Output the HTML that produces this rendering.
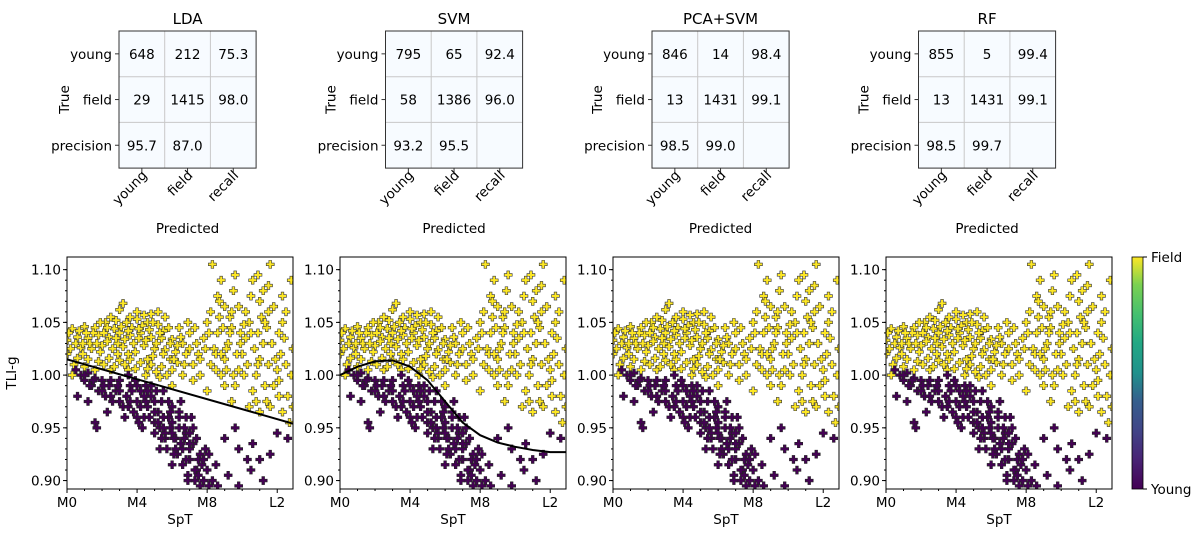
<!DOCTYPE html>
<html><head><meta charset="utf-8">
<style>
body{margin:0;background:#fff;}
svg{display:block;font-family:"DejaVu Sans","Liberation Sans",sans-serif;}
</style></head>
<body>
<svg id="fig" width="1200" height="543" viewBox="0 0 1200 543">
<defs>
<linearGradient id="vir" x1="0" y1="1" x2="0" y2="0">
<stop offset="0" stop-color="#440154"/><stop offset="0.13" stop-color="#482475"/><stop offset="0.25" stop-color="#414487"/>
<stop offset="0.38" stop-color="#355f8d"/><stop offset="0.5" stop-color="#21918c"/><stop offset="0.63" stop-color="#22a884"/>
<stop offset="0.75" stop-color="#44bf70"/><stop offset="0.88" stop-color="#7ad151"/><stop offset="1" stop-color="#fde725"/>
</linearGradient>
</defs>
</svg>
<script>
const models=["LDA","SVM","PCA+SVM","RF"];
const rowLabels=["young","field","precision"];
const colLabels=["young","field","recall"];
const cmLDA=[["648","212","75.3"],["29","1415","98.0"],["95.7","87.0",""]];
const cmSVM=[["795","65","92.4"],["58","1386","96.0"],["93.2","95.5",""]];
const cmPCA=[["846","14","98.4"],["13","1431","99.1"],["98.5","99.0",""]];
const cmRF=[["855","5","99.4"],["13","1431","99.1"],["98.5","99.7",""]];
const xTickVals=[0,4,8,12];
const xTickLabels=["M0","M4","M8","L2"];
const yTickVals=[0.90,0.95,1.00,1.05,1.10];
const youngPts=[[0.5,1.005],[0.8,1.0],[1,0.995],[1.2,1.002],[1.4,0.99],[1.6,0.997],[1.8,0.985],[2,0.995],[2.2,0.98],[2.4,0.99],[2.6,0.975],[2.8,0.985],[3,0.995],[3.2,0.97],[3.4,0.98],[3.6,0.99],[3.8,0.965],[4,0.975],[4.2,0.985],[4.4,0.96],[4.6,0.97],[4.8,0.98],[5,0.955],[5.2,0.965],[5.4,0.975],[5.6,0.945],[5.8,0.96],[6,0.97],[6.2,0.94],[6.4,0.95],[6.6,0.93],[6.8,0.945],[7,0.92],[7.2,0.935],[7.4,0.91],[7.6,0.925],[7.8,0.9],[8,0.91],
[2.5,0.995],[3.5,1.0],[4.5,0.99],[5.5,0.985],[6.5,0.975],[3,0.985],[4,0.99],[5,0.975],[6,0.955],[7,0.945],[4.8,0.99],[5.8,0.975],[6.8,0.96],[7.2,0.95],[5.3,0.95],[6.3,0.925],[7.3,0.9],[6.9,0.905],[7.6,0.895],[6.6,0.915],[7.1,0.96],[5.7,0.93],[6.1,0.94],[4.3,0.95],[3.3,0.96],[5.9,0.95],[6.4,0.965],[7.4,0.94],[7.7,0.915],[6.7,0.94],[5.5,0.96],[4.6,0.985],[3.9,0.995],
[1,1.0],[1.5,0.995],[2,0.985],[2.5,0.98],[3,0.975],[3.5,0.97],[4,0.96],[4.5,0.975],[5,0.965],[5.5,0.95],[6,0.945],[6.5,0.935],[7,0.93],[7.5,0.92],[7.9,0.93],[7.3,0.91],[6.8,0.92],[6.2,0.93],[5.6,0.94],[5.1,0.985],[4.4,0.98],[3.7,0.985],[2.9,0.99],[2.1,0.99],[1.3,0.99],[6.7,0.95],[7.5,0.905],[8.1,0.895],[7.0,0.935],[6.4,0.96],[5.9,0.965],[5.2,0.955],[4.7,0.96],[4.2,0.97],[3.6,0.975],[6.9,0.9],[7.8,0.92],[8.1,0.925],[5.4,0.94],[6.1,0.925],
[1.6,0.955],[1.7,0.95],[0.6,0.98],[1.2,0.975],[2.3,0.965],[4.1,0.955],[5,0.945],[5.3,0.93],[6,0.915],[8.5,0.915],[8.3,0.9],[9,0.94],[9.6,0.95],[9.8,0.93],[10.3,0.92],[10.6,0.935],[11,0.92],[11.2,0.9],[10.5,0.91],[11.6,0.925],[12,0.945],[12.6,0.94],[9.2,0.905],[9.8,0.895],[8.6,0.895]];
const fieldPts=[[0.3,1.044],[1,1.046],[1.6,1.045],[2.2,1.05],[2.8,1.052],[3.4,1.05],[4,1.053],[4.6,1.05],[5.2,1.048],[5.8,1.045],
[0,1.033],[0.6,1.036],[1.2,1.035],[1.8,1.038],[2.4,1.036],[3,1.04],[3.6,1.038],[4.2,1.04],[4.8,1.036],[5.4,1.035],[6,1.034],[6.6,1.03],
[0.2,1.025],[0.8,1.026],[1.4,1.025],[2,1.028],[2.6,1.025],[3.2,1.027],[3.8,1.03],[4.4,1.028],[5,1.025],[5.6,1.024],[6.2,1.022],[6.8,1.02],
[0,1.02],[0.6,1.016],[1.2,1.015],[1.8,1.013],[2.4,1.016],[3,1.014],[3.6,1.015],[4.2,1.012],[4.8,1.01],[5.4,1.008],[6,1.005],[6.6,1.0],[7.2,0.995],
[4,1.06],[3,1.062],[4.8,1.058],[5.2,1.06],[3.2,1.068],[5.6,1.055],[6.4,1.045],[7,1.04],[2.5,1.005],[3.5,1.005],[4.5,1.0],[5.3,0.998],[6,0.99],[0.5,1.03],[1.5,1.04],[2.7,1.044],[3.7,1.045],[4.3,1.047],
[0.9,1.02],[1.9,1.022],[2.9,1.02],[3.9,1.022],[4.9,1.018],[5.9,1.015],[1.3,1.03],[2.3,1.032],[3.3,1.034],[4.5,1.033],[5.1,1.03],[6.3,1.028],[2.1,1.04],[3.1,1.046],[4.1,1.044],[5.5,1.042],
[0.1,1.04],[0.7,1.042],[1.1,1.04],[1.7,1.03],[2.3,1.045],[2.9,1.03],[3.5,1.042],[4.1,1.035],[4.7,1.043],[5.3,1.04],[5.9,1.03],[6.5,1.036],[0.4,1.01],[1,1.008],[1.6,1.005],[2.1,1.01],[2.7,1.008],[3.3,1.01],[3.9,1.006],[4.6,1.006],[5.1,1.003],[5.7,1.0],[6.3,1.012],[7,1.025],[7.4,1.03],[7.3,1.045],[6.9,1.05],[3.6,1.055],[4.4,1.057],[2.5,1.055],[1.9,1.05],[4.9,1.05],[5.5,1.02],[6.1,1.015],[6.7,1.01],[0.3,1.0],[0.9,1.03],[2.8,1.035],[3.5,1.02],[4.6,1.015],
[7.5,1.02],[7.8,1.035],[8,1.05],[8.2,1.01],[8.4,1.025],[8.6,1.04],[8.8,1.0],[9,1.015],[9.2,1.03],[9.4,1.045],[9.6,0.99],[9.8,1.005],[10,1.02],[10.2,1.035],[10.4,1.05],[10.6,0.985],[10.8,1.0],[11,1.015],[11.2,1.03],[11.4,1.045],[11.6,0.97],[11.8,0.99],[12,1.005],[12.2,1.02],[12.4,1.035],[12.6,0.98],[12.8,1.0],
[8.2,1.06],[8.6,1.075],[8.8,1.09],[9,1.065],[9.5,1.08],[9.8,1.065],[10.2,1.06],[10.5,1.075],[10.9,1.095],[11,1.07],[11.3,1.05],[11.5,1.085],[11.8,1.065],[12.1,1.04],[12.5,1.06],[12.8,1.09],[11.6,1.105],[8.3,1.105],
[7.2,1.01],[7.6,1.0],[8,0.985],[9,0.99],[9.4,0.975],[10.4,0.97],[11,0.965],[11.4,0.975],[12.3,0.965],[12.7,0.955],[7.9,1.025],[8.9,1.045],[9.9,1.04],[10.7,1.025],[11.9,1.015],[12.9,1.025],
[8.5,1.02],[9.1,1.005],[9.7,1.02],[10.3,1.01],[10.9,1.04],[11.5,1.01],[12.1,0.995],[8.7,1.055],[9.3,1.055],[10.1,1.048],[11.1,1.055],[12.3,1.05],
[7.6,1.015],[8.1,1.04],[8.5,1.005],[9.1,1.025],[9.5,1.0],[9.9,1.03],[10.1,1.0],[10.5,1.04],[10.9,1.01],[11.3,0.99],[11.7,1.03],[12.1,0.98],[12.5,1.01],[12.9,0.97],[10.8,0.975],[9.3,1.04],[8.8,1.02],[11.5,1.06],[10.6,1.09],[9.6,1.095],[12.3,1.075],[11.2,1.08],[8.7,1.07],[9.4,1.06]];
const ldaLineX=[0,12.9];
const ldaLineY=[1.015,0.954];
const svmLineX=[0,1,2,3,4,5,6,7,8,9,10,11,12,12.9];
const svmLineY=[1.0,1.008,1.013,1.014,1.008,0.995,0.975,0.955,0.943,0.936,0.932,0.929,0.927,0.927];

const svg=document.getElementById('fig');
const NS="http://www.w3.org/2000/svg";
function mk(tag,attrs,parent,text){const e=document.createElementNS(NS,tag);for(const k in attrs)e.setAttribute(k,attrs[k]);if(text!==undefined)e.textContent=text;(parent||svg).appendChild(e);return e;}

const cms=[cmLDA,cmSVM,cmPCA,cmRF];
const boxL=[119,385.5,652,918.5];
const top0=31,cell=45.7;
cms.forEach((cm,i)=>{
  const g=mk('g',{});
  
  
  const L=boxL[i];
  const t=mk('text',{x:L+1.5*cell,y:24,'text-anchor':'middle','font-size':15},g,models[i]);
  
  mk('rect',{x:L,y:top0,width:3*cell,height:3*cell,fill:'#f7fbff'},g);
  for(let k=1;k<3;k++){
    mk('line',{x1:L+k*cell,x2:L+k*cell,y1:top0,y2:top0+3*cell,stroke:'#c8c8c8','stroke-width':1},g);
    mk('line',{x1:L,x2:L+3*cell,y1:top0+k*cell,y2:top0+k*cell,stroke:'#c8c8c8','stroke-width':1},g);
  }
  mk('rect',{x:L,y:top0,width:3*cell,height:3*cell,fill:'none',stroke:'#333','stroke-width':1},g);
  for(let r=0;r<3;r++)for(let c=0;c<3;c++){
    if(cm[r][c]==='')continue;
    const ct=mk('text',{x:L+(c+0.5)*cell,y:top0+(r+0.5)*cell+5,'text-anchor':'middle','font-size':13.5},g,cm[r][c]);
    
  }
  rowLabels.forEach((lb,r)=>{
    const y=top0+(r+0.5)*cell;
    mk('line',{x1:L-4,x2:L,y1:y,y2:y,stroke:'#333'},g);
    const rt=mk('text',{x:L-7,y:y+5,'text-anchor':'end','font-size':13.5},g,lb);
    
  });
  colLabels.forEach((lb,c)=>{
    const x=L+(c+0.5)*cell;
    const ay=top0+3*cell+8;
    mk('line',{x1:x,x2:x,y1:top0+3*cell,y2:top0+3*cell+4,stroke:'#333'},g);
    const ct=mk('text',{x:x+6,y:ay,'text-anchor':'end','font-size':13.5,transform:`rotate(-45 ${x+6} ${ay})`},g,lb);
    
  });
  const yt=mk('text',{x:0,y:0,'text-anchor':'middle','font-size':13.5,transform:`translate(${L-50},${top0+1.5*cell}) rotate(-90)`},g,'True');
  
  const xt=mk('text',{x:L+1.5*cell,y:233,'text-anchor':'middle','font-size':13.5},g,'Predicted');
  
});

const axL=[67,340,613,886],axW=226,axT=257,axB=489;
const xMin=0,xMax=12.9,yMin=0.892,yMax=1.112;
function plusPath(cx,cy,s){const a=s/2,b=s/6;return `M${cx-b},${cy-a}h${2*b}v${a-b}h${a-b}v${2*b}h${-(a-b)}v${a-b}h${-2*b}v${-(a-b)}h${-(a-b)}v${-2*b}h${a-b}z`;}
models.forEach((m,i)=>{
  const L=axL[i];
  const sx=v=>L+(v-xMin)/(xMax-xMin)*axW;
  const sy=v=>axB-(v-yMin)/(yMax-yMin)*(axB-axT);
  const g=mk('g',{});
  
  
  const cid='clip'+i;
  const cp=mk('clipPath',{id:cid},g);mk('rect',{x:L,y:axT,width:axW,height:axB-axT},cp);
  const pg=mk('g',{'clip-path':`url(#${cid})`},g);
  fieldPts.forEach(p=>{const e=mk('path',{d:plusPath(sx(p[0]),sy(p[1]),8),fill:'#fde725',stroke:'#333','stroke-width':0.6},pg);
    });
  youngPts.forEach(p=>{const e=mk('path',{d:plusPath(sx(p[0]),sy(p[1]),8),fill:'#440154',stroke:'#222','stroke-width':0.6},pg);
    });
  let lx=null,ly=null;
  if(i===0){lx=ldaLineX;ly=ldaLineY;}
  if(i===1){lx=svmLineX;ly=svmLineY;}
  if(lx){
    let d='';lx.forEach((v,k)=>{d+=(k?'L':'M')+sx(v)+','+sy(ly[k]);});
    const bl=mk('path',{d:d,fill:'none',stroke:'#000','stroke-width':2},pg);
    
  }
  mk('rect',{x:L,y:axT,width:axW,height:axB-axT,fill:'none',stroke:'#000','stroke-width':1},g);
  xTickVals.forEach((v,k)=>{
    mk('line',{x1:sx(v),x2:sx(v),y1:axB,y2:axB+4,stroke:'#000'},g);
    const t=mk('text',{x:sx(v),y:axB+18,'text-anchor':'middle','font-size':13.5},g,xTickLabels[k]);
    
  });
  for(let v=1;v<13;v++){if(v%4)mk('line',{x1:sx(v),x2:sx(v),y1:axB,y2:axB+2,stroke:'#000'},g);}
  yTickVals.forEach(v=>{
    mk('line',{x1:L-4,x2:L,y1:sy(v),y2:sy(v),stroke:'#000'},g);
    const t=mk('text',{x:L-6,y:sy(v)+5,'text-anchor':'end','font-size':13.5},g,v.toFixed(2));
    
  });
  for(let v=0.9;v<1.11;v+=0.01){mk('line',{x1:L-2,x2:L,y1:sy(v),y2:sy(v),stroke:'#000'},g);}
  const xl=mk('text',{x:L+axW/2,y:524,'text-anchor':'middle','font-size':13.5},g,'SpT');
  
  if(i===0){
    const yl=mk('text',{x:0,y:0,'text-anchor':'middle','font-size':13.5,transform:`translate(16,${(axT+axB)/2}) rotate(-90)`},g,'TLI-g');
    
  }
});
const cb=mk('g',{});

mk('rect',{x:1132,y:axT,width:11,height:axB-axT,fill:'url(#vir)',stroke:'#000','stroke-width':0.8},cb);
mk('line',{x1:1143,x2:1147,y1:axT,y2:axT,stroke:'#000'},cb);
mk('line',{x1:1143,x2:1147,y1:axB,y2:axB,stroke:'#000'},cb);
const f=mk('text',{x:1151,y:axT+5,'font-size':13.5},cb,'Field');

const yg=mk('text',{x:1151,y:axB+5,'font-size':13.5},cb,'Young');

</script>
</body></html>
